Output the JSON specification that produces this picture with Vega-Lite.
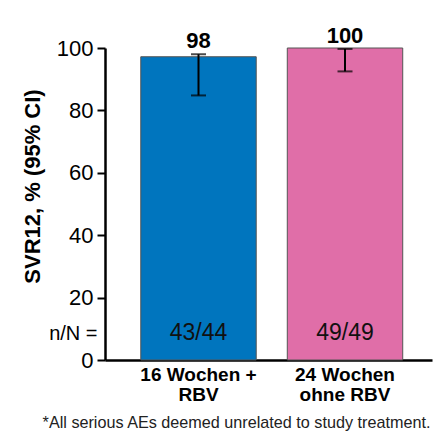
{
  "$schema": "https://vega.github.io/schema/vega-lite/v6.json",
  "width": 327,
  "height": 312,
  "autosize": "none",
  "padding": {"left": 105, "top": 48, "right": 14, "bottom": 82},
  "background": "white",
  "config": {"view": {"stroke": null}, "font": "Liberation Sans"},
  "title": {
    "text": "*All serious AEs deemed unrelated to study treatment.",
    "orient": "bottom",
    "anchor": "middle",
    "fontSize": 16.2,
    "fontWeight": "normal",
    "color": "#222",
    "offset": 11,
    "dx": -32
  },
  "data": {
    "values": [
      {"group": "16 Wochen + RBV", "svr": 97.2, "lo": 84.8, "hi": 98, "label": "98", "nN": "43/44", "nNpos": 8.5},
      {"group": "24 Wochen ohne RBV", "svr": 100, "lo": 92.5, "hi": 99.7, "label": "100", "nN": "49/49", "nNpos": 8.5}
    ]
  },
  "encoding": {
    "x": {
      "field": "group",
      "type": "nominal",
      "sort": null,
      "scale": {"paddingInner": 0.212, "paddingOuter": 0.222, "align": 0.55},
      "axis": {
        "title": null,
        "ticks": false,
        "domainColor": "black",
        "domainWidth": 2.5,
        "labelAngle": 0,
        "labelFontSize": 19,
        "labelFontWeight": "bold",
        "labelColor": "black",
        "labelPadding": 5,
        "labelLineHeight": 20,
        "labelExpr": "datum.value == '16 Wochen + RBV' ? ['16 Wochen +', 'RBV'] : ['24 Wochen', 'ohne RBV']"
      }
    }
  },
  "layer": [
    {
      "mark": {"type": "bar", "stroke": "#555", "strokeWidth": 1},
      "encoding": {
        "y": {
          "field": "svr",
          "type": "quantitative",
          "scale": {"domain": [0, 100], "nice": false},
          "axis": {
            "values": [0, 8.5, 20, 40, 60, 80, 100],
            "labelExpr": "datum.value == 8.5 ? 'n/N =' : datum.label",
            "grid": false,
            "title": "SVR12, % (95% CI)",
            "titleFontSize": 22,
            "titleFontWeight": "bold",
            "titleColor": "black",
            "titlePadding": 4,
            "titleY": 138,
            "domainColor": "black",
            "domainWidth": 2.5,
            "tickColor": {"condition": {"test": "datum.value == 8.5", "value": "transparent"}, "value": "black"},
            "tickWidth": 2,
            "tickSize": 8,
            "labelFontSize": {"condition": {"test": "datum.value == 8.5", "value": 20}, "value": 22},
            "labelColor": "black",
            "labelPadding": {"condition": {"test": "datum.value == 8.5", "value": 0}, "value": 4}
          }
        },
        "color": {
          "field": "group",
          "type": "nominal",
          "sort": null,
          "scale": {"range": ["#0075BE", "#E06EA8"]},
          "legend": null
        }
      }
    },
    {
      "mark": {"type": "rule", "color": "black", "strokeWidth": 2},
      "encoding": {
        "y": {"field": "lo", "type": "quantitative"},
        "y2": {"field": "hi"}
      }
    },
    {
      "mark": {"type": "tick", "orient": "horizontal", "color": "black", "thickness": 2, "size": 15},
      "encoding": {"y": {"field": "lo", "type": "quantitative"}}
    },
    {
      "mark": {"type": "tick", "orient": "horizontal", "color": "black", "thickness": 2, "size": 15},
      "encoding": {"y": {"field": "hi", "type": "quantitative"}}
    },
    {
      "mark": {"type": "text", "fontSize": 22, "fontWeight": "bold", "baseline": "alphabetic", "dy": -6, "color": "black"},
      "encoding": {
        "y": {"field": "hi", "type": "quantitative"},
        "text": {"field": "label"}
      }
    },
    {
      "mark": {"type": "text", "fontSize": 23, "baseline": "middle", "color": "#111"},
      "encoding": {
        "y": {"field": "nNpos", "type": "quantitative"},
        "text": {"field": "nN"}
      }
    }
  ]
}
